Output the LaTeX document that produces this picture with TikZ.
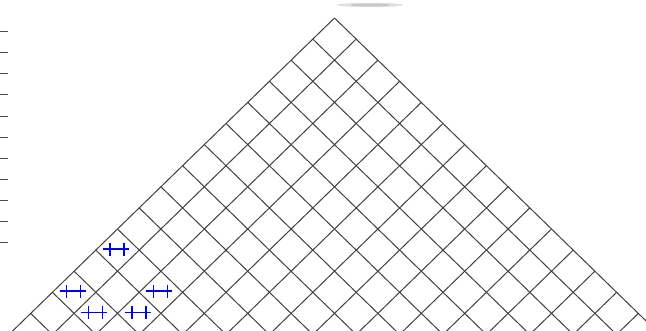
\documentclass[tikz,border=0pt]{standalone}
\usepackage{amsmath}
\usepackage{tikz}

\begin{document}
\begin{tikzpicture}[x=1pt, y=-1pt,
  gridline/.style={black!75, line width=1pt},
  tickline/.style={black!70, line width=1pt},
  plusmark/.style={draw=blue, line width=1.6pt}]
  \useasboundingbox (0,0) rectangle (646,331);
  \clip (0,0) rectangle (646,331);
  \coordinate (apex) at (334.5,18);
  % faint shadow at the top
  \fill[black!12] (370,5) ellipse (33 and 2.2);
  \fill[black!22] (370,5) ellipse (20 and 1.4);
  % ticks on the left side
  \foreach \k in {0,...,10}
    \draw[tickline] (0,{31.7+21.1*\k}) -- (8,{31.7+21.1*\k});
  % the rotated grid
  \foreach \k in {0,...,14} {
    \draw[gridline] ([shift={({-21.7*\k},{21.1*\k})}]apex) -- ++({21.7*16},{21.1*16});
    \draw[gridline] ([shift={({21.7*\k},{21.1*\k})}]apex) -- ++({-21.7*16},{21.1*16});
  }
  % marked cells
  \foreach \row/\col in {10/0, 12/0, 10/2, 12/1, 11/2} {
    \coordinate (mc) at ([shift={({21.7*(\col-\row)-1.5},{21.1*(\row+\col+1)-1})}]apex);
    \draw[plusmark] ([xshift=-13pt]mc) -- ([xshift=13pt]mc);
    \draw[plusmark] ([xshift=-6pt, yshift=-6.5pt]mc) -- ([xshift=-6pt, yshift=6.5pt]mc);
    \draw[plusmark] ([xshift=8pt, yshift=-6.5pt]mc) -- ([xshift=8pt, yshift=6.5pt]mc);
  }
\end{tikzpicture}
\end{document}
